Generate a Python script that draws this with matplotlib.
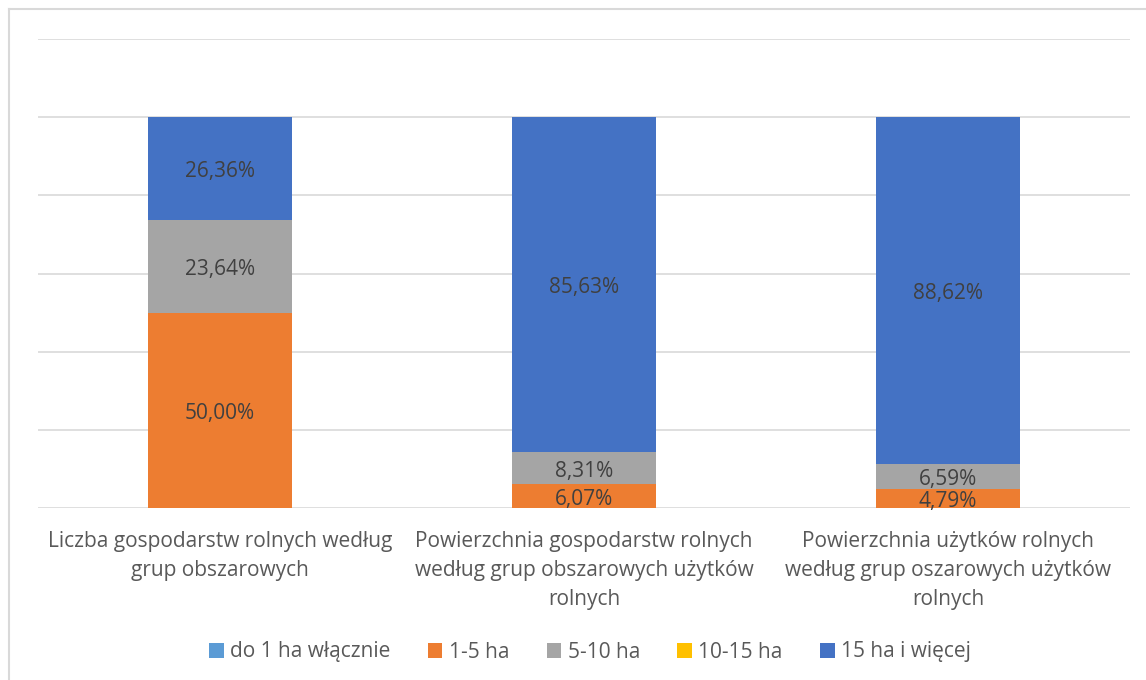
import matplotlib.pyplot as plt
import numpy as np

plt.rcParams['font.family'] = ['Open Sans', 'DejaVu Sans']

# dane
categories = ['Liczba gospodarstw rolnych według\ngrup obszarowych',
              'Powierzchnia gospodarstw rolnych\nwedług grup obszarowych użytków\nrolnych',
              'Powierzchnia użytków rolnych\nwedług grup oszarowych użytków\nrolnych']
series_names = ['do 1 ha włącznie', '1-5 ha', '5-10 ha', '10-15 ha', '15 ha i więcej']
do_1ha = [0.0, 0.0, 0.0]
ha_1_5 = [50.00, 6.07, 4.79]
ha_5_10 = [23.64, 8.31, 6.59]
ha_10_15 = [0.0, 0.0, 0.0]
ha_15_plus = [26.36, 85.63, 88.62]
colors = ['#5B9BD5', '#ED7D31', '#A5A5A5', '#FFC000', '#4472C4']

series = [do_1ha, ha_1_5, ha_5_10, ha_10_15, ha_15_plus]

fig = plt.figure(figsize=(11.46, 6.8), dpi=100)
ax = fig.add_axes([38/1146, 1-508/680, (1130-38)/1146, (508-39)/680])

x = np.arange(len(categories))
bottom = np.zeros(len(categories))
tot = np.sum(series, axis=0)
for name, vals, col in zip(series_names, series, colors):
    vals = np.array(vals)
    # wykres skumulowany 100%
    h = vals / tot * 100
    ax.bar(x, h, 0.396, bottom=bottom, color=col, label=name, zorder=2)
    for i in range(len(x)):
        if vals[i] > 0:
            ax.text(x[i], bottom[i] + h[i]/2 - 0.8, '{:.2f}%'.format(vals[i]).replace('.', ','),
                    ha='center', va='center', fontsize=15, color='#404040', zorder=3)
    bottom += h

ax.set_xlim(-0.5, 2.5)
ax.set_ylim(0, 120)
ax.set_yticks(np.arange(0, 121, 20))
ax.yaxis.grid(True, color='#D9D9D9', linewidth=1.2, zorder=0)
ax.tick_params(left=False, labelleft=False, bottom=False, labelbottom=False)
for s in ax.spines.values():
    s.set_visible(False)

for i, c in enumerate(categories):
    ax.text(x[i], -6.0, c, ha='center', va='top', fontsize=15, color='#595959',
            linespacing=1.5, clip_on=False)

leg = fig.legend(loc='center', bbox_to_anchor=(590/1146, 1-652/680), ncol=5, frameon=False,
                 fontsize=15, handlelength=0.7, handleheight=0.7, handletextpad=0.3,
                 columnspacing=1.8, labelcolor='#595959')

# ramka wykresu (lewa i gorna krawedz)
fig.add_artist(plt.Line2D([9/1146, 9/1146], [0, 1-9/680], color='#D9D9D9', linewidth=1.5))
fig.add_artist(plt.Line2D([9/1146, 1], [1-9/680, 1-9/680], color='#D9D9D9', linewidth=1.5))

fig.savefig('out.png', dpi=100)
